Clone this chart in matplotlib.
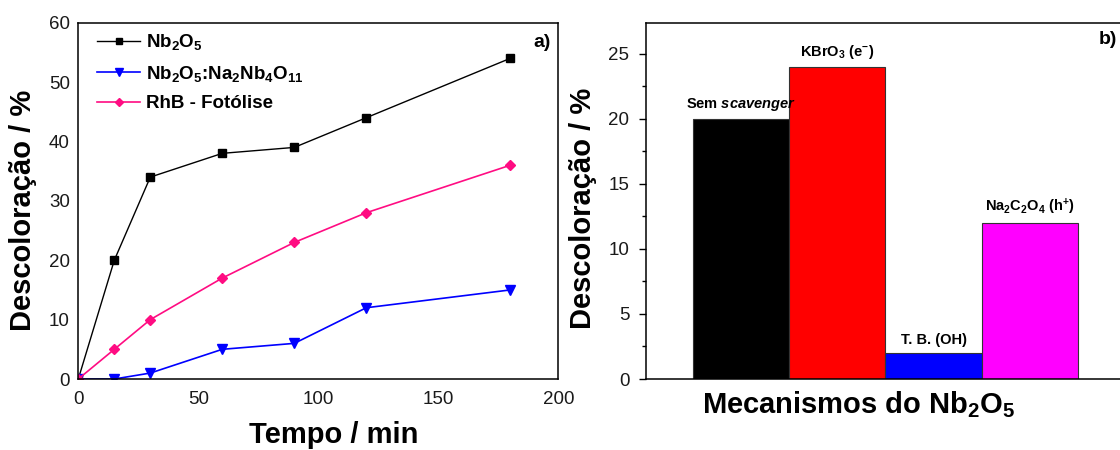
import numpy as np
import matplotlib
matplotlib.use('Agg')
import matplotlib.pyplot as plt

plt.rcParams['font.family'] = ['Liberation Sans', 'DejaVu Sans']
plt.rcParams['mathtext.fontset'] = 'custom'
plt.rcParams['mathtext.rm'] = 'Liberation Sans'
plt.rcParams['mathtext.bf'] = 'Liberation Sans:bold'
plt.rcParams['mathtext.it'] = 'Liberation Sans:italic:bold'

# panel a) - decoloracao vs tempo
tempo = [0, 15, 30, 60, 90, 120, 180]
nb2o5 = [0, 20, 34, 38, 39, 44, 54]
nb2o5_na = [0, 0, 1, 5, 6, 12, 15]
fotolise = [0, 5, 10, 17, 23, 28, 36]

# panel b) - scavengers
mecanismos = ['Sem scavenger', 'KBrO3', 'T. B.', 'Na2C2O4']
descoloracao = [20, 24, 2, 12]
rotulos = [r'Sem $\mathit{scavenger}$',
           r'KBrO$_\mathbf{3}$ (e$^\mathbf{-}$)',
           'T. B. (OH)',
           r'Na$_\mathbf{2}$C$_\mathbf{2}$O$_\mathbf{4}$ (h$^\mathbf{+}$)']
cores = ['#000000', '#ff0000', '#0000ff', '#ff00ff']

W, H = 1120, 450
fig = plt.figure(figsize=(W / 100, H / 100), dpi=100)

def box(x0, y0, x1, y1):
    # pixel box (top-left origin) -> figure fraction
    return [x0 / W, 1 - y1 / H, (x1 - x0) / W, (y1 - y0) / H]

# ---------------- a) ----------------
ax1 = fig.add_axes(box(78.3, 22.7, 558.3, 379))
ax1.plot(tempo, nb2o5, '-s', color='black', lw=1.0, ms=6, label=r'Nb$_\mathbf{2}$O$_\mathbf{5}$')
ax1.plot(tempo, nb2o5_na, '-v', color='#0000ff', lw=1.2, ms=7,
         label=r'Nb$_\mathbf{2}$O$_\mathbf{5}$:Na$_\mathbf{2}$Nb$_\mathbf{4}$O$_\mathbf{11}$')
ax1.plot(tempo, fotolise, '-D', color='#ff0c82', lw=1.2, ms=5.5, label='RhB - Fotólise')
ax1.set_xlim(0, 200)
ax1.set_ylim(0, 60)
ax1.set_xticks([0, 50, 100, 150, 200])
ax1.set_yticks([0, 10, 20, 30, 40, 50, 60])
ax1.tick_params(length=0, labelsize=13.5, labelcolor='#1a1a1a')
ax1.tick_params(axis='x', pad=9)
ax1.tick_params(axis='y', pad=6)
for s in ax1.spines.values():
    s.set_linewidth(1.1)
leg = ax1.legend(loc='upper left', bbox_to_anchor=(0.02, 1.0), frameon=False,
                 prop={'weight': 'bold', 'size': 13.5}, handlelength=2.3,
                 handletextpad=0.3, labelspacing=0.62, markerscale=0.75,
                 borderaxespad=0.1)
ax1.text(0.985, 0.945, 'a)', transform=ax1.transAxes, ha='right', va='center',
         fontsize=14, fontweight='bold')

# ---------------- b) ----------------
ax2 = fig.add_axes(box(646, 22.7, 1130, 379))
x = np.arange(len(mecanismos))
ax2.bar(x, descoloracao, width=1.0, color=cores, edgecolor='#333333', linewidth=0.8)
ax2.set_xlim(-0.988, 4.04)
ax2.set_ylim(0, 27.4)
ax2.set_xticks([])
ax2.set_yticks([0, 5, 10, 15, 20, 25])
ax2.set_yticks(np.arange(2.5, 27, 5), minor=True)
ax2.tick_params(axis='y', which='major', length=5, width=1.0, direction='out',
                labelsize=13.5, labelcolor='#1a1a1a', pad=7)
ax2.tick_params(axis='y', which='minor', length=3, width=1.0, direction='out')
ax2.spines['right'].set_visible(False)
for s in ax2.spines.values():
    s.set_linewidth(1.1)
for xi, v, r in zip(x, descoloracao, rotulos):
    ax2.annotate(r, (xi, v), xytext=(0, 4), textcoords='offset points',
                 ha='center', va='bottom', fontsize=10.5, fontweight='bold')
fig.text(1108 / W, 1 - 40 / H, 'b)', ha='center', va='center',
         fontsize=14, fontweight='bold')

# axis titles placed as in the original layout
fig.text(23 / W, 1 - 210 / H, 'Descoloração / %', rotation=90, ha='center',
         va='center', fontsize=21, fontweight='bold')
fig.text(334 / W, 1 - 435 / H, 'Tempo / min', ha='center', va='center',
         fontsize=21, fontweight='bold')
fig.text(583 / W, 1 - 208 / H, 'Descoloração / %', rotation=90, ha='center',
         va='center', fontsize=21, fontweight='bold')
fig.text(859 / W, 1 - 405 / H, r'Mecanismos do Nb$_\mathbf{2}$O$_\mathbf{5}$',
         ha='center', va='center', fontsize=21, fontweight='bold')

fig.savefig('out.png', dpi=100)
